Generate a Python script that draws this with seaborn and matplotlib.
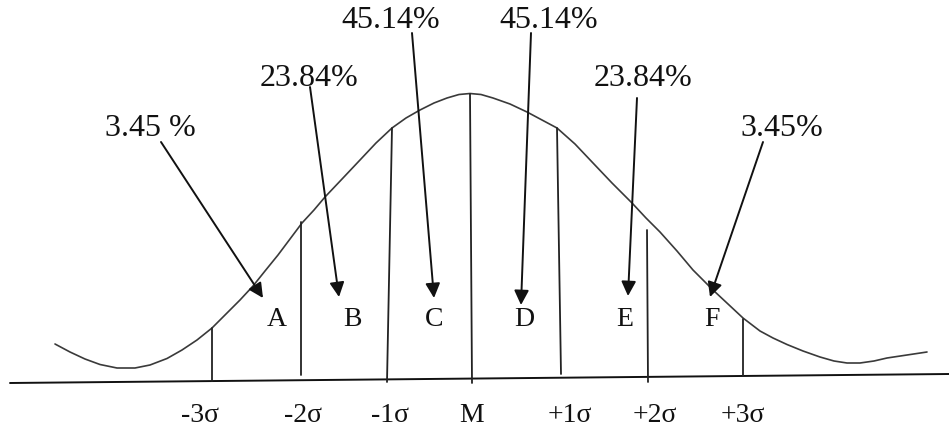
import seaborn as sns
import pandas as pd
import matplotlib.pyplot as plt

# everything in picture (pixel) coordinates, y grows downwards
curve_x = [55, 70, 85, 100, 117, 135, 150, 167, 182, 197, 212, 225, 240, 253, 265, 278,
           290, 302, 314, 325, 343, 360, 376, 392, 406, 420, 434, 447, 459, 470, 481, 493,
           510, 527, 542, 557, 575, 593, 612, 632, 646, 660, 677, 693, 703, 713, 728, 743,
           760, 773, 787, 803, 820, 834, 847, 860, 874, 887, 907, 927]
curve_y = [344, 352, 359, 364.5, 368, 368, 365, 358.5, 350, 340, 328, 315, 300, 286, 271, 255,
           239, 223, 210, 197, 178, 160, 143, 128, 118, 110, 103, 98, 94.5, 93.5, 94.5, 98,
           104, 112, 120, 128, 144, 163, 183, 203, 218, 232, 251, 270, 280, 290, 304, 318,
           331, 338, 344.5, 351, 357, 361, 363, 363, 361, 358, 355, 352]

base_x = [10, 949]
base_y = [383, 374]

# sigma lines: bottom and top ends
line_xb = [212, 301, 387, 472, 561, 648, 743]
line_yb = [381, 375, 382, 383, 374, 382, 376]
line_xt = [212, 301, 392, 470, 557, 647, 743]
line_yt = [328, 222, 128, 94, 128, 230, 319]

sigma_labels = ['-3σ', '-2σ', '-1σ', 'M', '+1σ', '+2σ', '+3σ']
sigma_lab_x = [200, 303, 390, 472, 570, 655, 743]

letters = ['A', 'B', 'C', 'D', 'E', 'F']
letter_x = [277, 352, 434, 524, 625, 712]

pct_labels = ['3.45 %', '23.84%', '45.14%', '45.14%', '23.84%', '3.45%']
pct_x = [150, 309, 391, 549, 643, 782]
pct_y = [129, 79, 21, 21, 79, 129]
arrow_start_x = [161, 310, 412, 531, 637, 763]
arrow_start_y = [142, 87, 33, 33, 98, 142]
arrow_end_x = [263, 339, 434, 521, 628, 710]
arrow_end_y = [298, 297, 298, 305, 296, 297]

curve = pd.DataFrame({'x': curve_x, 'y': curve_y})

sns.set_style('white')
plt.rcParams['font.family'] = ['Liberation Serif', 'DejaVu Serif']

fig = plt.figure(figsize=(9.49, 4.3), dpi=100)
ax = fig.add_axes([0, 0, 1, 1])

sns.lineplot(data=curve, x='x', y='y', sort=False, color='#3a3a3a', linewidth=1.2, ax=ax)
sns.lineplot(x=base_x, y=base_y, color='#111111', linewidth=1.4, ax=ax)

for xb, yb, xt, yt in zip(line_xb, line_yb, line_xt, line_yt):
    ax.plot([xb, xt], [yb, yt], color='#222222', linewidth=1.3)

for lab, x in zip(sigma_labels, sigma_lab_x):
    ax.text(x, 416, lab, ha='center', va='center', fontsize=20, color='#111111')

for lab, x in zip(letters, letter_x):
    ax.text(x, 320, lab, ha='center', va='center', fontsize=20, color='#111111')

for i in range(len(pct_labels)):
    ax.text(pct_x[i], pct_y[i], pct_labels[i], ha='center', va='center', fontsize=23,
            color='#111111')
    ax.annotate('', xy=(arrow_end_x[i], arrow_end_y[i]),
                xytext=(arrow_start_x[i], arrow_start_y[i]),
                arrowprops=dict(arrowstyle='-|>', color='#111111', lw=1.4,
                                mutation_scale=22, shrinkA=0, shrinkB=0))

ax.set_xlim(0, 949)
ax.set_ylim(430, 0)
ax.axis('off')

fig.savefig('out.png', dpi=100, facecolor='white')
